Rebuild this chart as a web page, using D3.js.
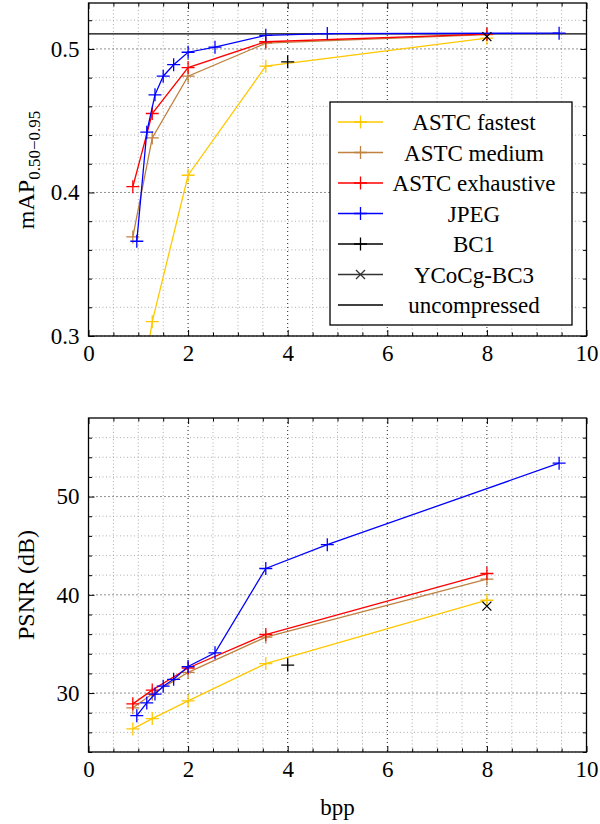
<!DOCTYPE html>
<html>
<head>
<meta charset="utf-8">
<script src="https://cdn.jsdelivr.net/npm/d3@7"></script>
<style>
  body { margin: 0; background: #fff; }
  svg text { font-family: "Liberation Serif", "DejaVu Serif", serif; fill: #000; }
</style>
</head>
<body>
<div class="chart"></div>
<script>
// bpp-värden
const astcBpp = [0.89, 1.28, 2.0, 3.56, 8.0];
const jpegBpp = [0.97, 1.17, 1.335, 1.50, 1.71, 2.0, 2.54, 3.56, 4.795, 9.45];
const bc1Bpp = [4.0];
const ycocgBpp = [8.0];

// mAP (övre diagrammet)
const fastestMap = [0.225, 0.310, 0.412, 0.488, 0.5075];
const mediumMap = [0.369, 0.438, 0.481, 0.504, 0.5100];
const exhaustiveMap = [0.404, 0.455, 0.487, 0.505, 0.5103];
const jpegMap = [0.366, 0.442, 0.468, 0.481, 0.489, 0.4977, 0.5012, 0.5095, 0.5107, 0.511];
const bc1Map = [0.491];
const ycocgMap = [0.5086];
const uncompressedMap = 0.5105;

// PSNR (nedre diagrammet)
const fastestPsnr = [26.35, 27.4, 29.2, 33.0, 39.45];
const mediumPsnr = [28.5, 29.9, 32.1, 35.7, 41.6];
const exhaustivePsnr = [28.9, 30.3, 32.55, 35.96, 42.17];
const jpegPsnr = [27.7, 29.0, 29.9, 30.7, 31.4, 32.7, 34.1, 42.68, 45.1, 53.4];
const bc1Psnr = [32.85];
const ycocgPsnr = [38.85];

// axlar
const xTicks = [0, 2, 4, 6, 8, 10];
const mapTicks = [0.3, 0.4, 0.5];
const psnrTicks = [30, 40, 50];
const legendNames = ["ASTC fastest", "ASTC medium", "ASTC exhaustive", "JPEG", "BC1", "YCoCg-BC3", "uncompressed"];

const colors = {
  fastest: "#ffc800",
  medium: "#bf8040",
  exhaustive: "#ff0000",
  jpeg: "#0000ff",
  black: "#000000"
};

const svg = d3.select("div.chart").append("svg")
  .attr("width", 600)
  .attr("height", 824);

const left = 88.5, right = 586.5;
const x = d3.scaleLinear().domain([0, 10]).range([left, right]);

const plus = s => `M${-s},0H${s}M0,${-s}V${s}`;
const cross = s => `M${-s},${-s}L${s},${s}M${-s},${s}L${s},${-s}`;

function drawPanel(cfg) {
  const top = cfg.top, bottom = cfg.bottom;
  const y = d3.scaleLinear().domain(cfg.yDomain).range([bottom, top]);
  const g = svg.append("g");

  // minor/major grid
  const xMinor = d3.range(0, 10.001, 0.5).filter(v => !xTicks.includes(v));
  const yMinor = d3.range(cfg.yDomain[0], cfg.yDomain[1], cfg.minorStep)
    .map(v => +v.toFixed(4)).filter(v => !cfg.yTicks.some(t => Math.abs(t - v) < 1e-6));

  g.selectAll(".gxm").data(xMinor).enter().append("line")
    .attr("x1", d => x(d)).attr("x2", d => x(d)).attr("y1", top).attr("y2", bottom)
    .attr("stroke", "#999").attr("stroke-width", 0.8).attr("stroke-dasharray", "1 2.5");
  g.selectAll(".gym").data(yMinor).enter().append("line")
    .attr("x1", left).attr("x2", right).attr("y1", d => y(d)).attr("y2", d => y(d))
    .attr("stroke", "#999").attr("stroke-width", 0.8).attr("stroke-dasharray", "1 2.5");
  g.selectAll(".gx").data(xTicks.slice(1, -1)).enter().append("line")
    .attr("x1", d => x(d)).attr("x2", d => x(d)).attr("y1", top).attr("y2", bottom)
    .attr("stroke", "#222").attr("stroke-width", 1).attr("stroke-dasharray", "1 3");
  g.selectAll(".gy").data(cfg.yTicks).enter().append("line")
    .attr("x1", left).attr("x2", right).attr("y1", d => y(d)).attr("y2", d => y(d))
    .attr("stroke", "#222").attr("stroke-width", 1).attr("stroke-dasharray", "1 3");

  // ticks inåt på alla sidor
  const axes = [
    [() => d3.axisBottom(x), `translate(0,${bottom})`, xTicks, xMinor, d3.format("d")],
    [() => d3.axisTop(x), `translate(0,${top})`, xTicks, xMinor, null],
    [() => d3.axisLeft(y), `translate(${left},0)`, cfg.yTicks, yMinor, cfg.yFormat],
    [() => d3.axisRight(y), `translate(${right},0)`, cfg.yTicks, yMinor, null]
  ];
  axes.forEach(([mk, tr, major, minor, fmt]) => {
    g.append("g").attr("transform", tr)
      .call(mk().tickValues(minor).tickSize(-3.5).tickSizeOuter(0).tickFormat(""))
      .call(a => a.select(".domain").remove());
    const m = g.append("g").attr("transform", tr)
      .call(mk().tickValues(major).tickSize(-6).tickSizeOuter(0).tickPadding(fmt ? 9 : 0)
        .tickFormat(fmt ? fmt : ""))
      .call(a => a.select(".domain").remove());
    m.attr("font-family", null).attr("font-size", null);
    m.selectAll("text").style("font-size", "23px");
  });

  // serier
  const clipId = "clip" + cfg.top;
  svg.append("clipPath").attr("id", clipId).append("rect")
    .attr("x", left).attr("y", top).attr("width", right - left).attr("height", bottom - top);
  const plot = g.append("g").attr("clip-path", `url(#${clipId})`);

  const line = d3.line().x(d => x(d[0])).y(d => y(d[1]));

  if (cfg.hline !== undefined) {
    plot.append("line")
      .attr("x1", x(0)).attr("x2", x(10))
      .attr("y1", y(cfg.hline)).attr("y2", y(cfg.hline))
      .attr("stroke", "#000").attr("stroke-width", 1.2);
  }

  cfg.series.forEach(s => {
    const pts = s.xs.map((v, i) => [v, s.ys[i]]);
    if (pts.length > 1) {
      plot.append("path").datum(pts)
        .attr("d", line).attr("fill", "none")
        .attr("stroke", s.color).attr("stroke-width", 1.3);
    }
    plot.selectAll(null).data(pts).enter().append("path")
      .attr("transform", d => `translate(${x(d[0])},${y(d[1])})`)
      .attr("d", s.mark === "x" ? cross(4.5) : plus(6.5))
      .attr("fill", "none").attr("stroke", s.color).attr("stroke-width", 1.3);
  });

  // ram
  g.append("rect")
    .attr("x", left).attr("y", top).attr("width", right - left).attr("height", bottom - top)
    .attr("fill", "none").attr("stroke", "#000").attr("stroke-width", 1.3);

  return g;
}

const topPanel = drawPanel({
  top: 3, bottom: 336,
  yDomain: [0.3, 0.532], yTicks: mapTicks, minorStep: 0.02,
  yFormat: d3.format(".1f"),
  hline: uncompressedMap,
  series: [
    {xs: astcBpp, ys: fastestMap, color: colors.fastest},
    {xs: astcBpp, ys: mediumMap, color: colors.medium},
    {xs: astcBpp, ys: exhaustiveMap, color: colors.exhaustive},
    {xs: jpegBpp, ys: jpegMap, color: colors.jpeg},
    {xs: bc1Bpp, ys: bc1Map, color: colors.black},
    {xs: ycocgBpp, ys: ycocgMap, color: colors.black, mark: "x"}
  ]
});

drawPanel({
  top: 418, bottom: 752,
  yDomain: [24, 58], yTicks: psnrTicks, minorStep: 2,
  yFormat: d3.format("d"),
  series: [
    {xs: astcBpp, ys: fastestPsnr, color: colors.fastest},
    {xs: astcBpp, ys: mediumPsnr, color: colors.medium},
    {xs: astcBpp, ys: exhaustivePsnr, color: colors.exhaustive},
    {xs: jpegBpp, ys: jpegPsnr, color: colors.jpeg},
    {xs: bc1Bpp, ys: bc1Psnr, color: colors.black},
    {xs: ycocgBpp, ys: ycocgPsnr, color: colors.black, mark: "x"}
  ]
});

// Legend i övre diagrammet
const legendColors = [colors.fastest, colors.medium, colors.exhaustive, colors.jpeg, "#000", "#333", "#000"];
const legendMarks = ["+", "+", "+", "+", "+", "x", null];
const legend = topPanel.append("g");
legend.append("rect")
  .attr("x", 330).attr("y", 102).attr("width", 242).attr("height", 223)
  .attr("fill", "#fff").attr("stroke", "#000").attr("stroke-width", 1.3);
legendNames.forEach((name, i) => {
  const cy = 122 + i * 30.5;
  legend.append("line")
    .attr("x1", 338).attr("x2", 383).attr("y1", cy).attr("y2", cy)
    .attr("stroke", legendColors[i]).attr("stroke-width", 1.3);
  if (legendMarks[i]) {
    legend.append("path")
      .attr("transform", `translate(360.5,${cy})`)
      .attr("d", legendMarks[i] === "x" ? cross(4.5) : plus(6.5))
      .attr("fill", "none").attr("stroke", legendColors[i]).attr("stroke-width", 1.3);
  }
  legend.append("text")
    .attr("x", 474).attr("y", cy + 8)
    .attr("text-anchor", "middle")
    .style("font-size", "23px")
    .text(name);
});

// Y-axeletiketter
const mapLabel = svg.append("text")
  .attr("transform", "translate(34,170) rotate(-90)")
  .attr("text-anchor", "middle")
  .style("font-size", "24px");
mapLabel.append("tspan").text("mAP");
mapLabel.append("tspan").attr("dy", 6).style("font-size", "17px").text("0.50\u22120.95");

svg.append("text")
  .attr("transform", "translate(34,585) rotate(-90)")
  .attr("text-anchor", "middle")
  .style("font-size", "24px")
  .text("PSNR (dB)");

// X-axeletikett
svg.append("text")
  .attr("x", (left + right) / 2)
  .attr("y", 815)
  .attr("text-anchor", "middle")
  .style("font-size", "23px")
  .text("bpp");
</script>
</body>
</html>
